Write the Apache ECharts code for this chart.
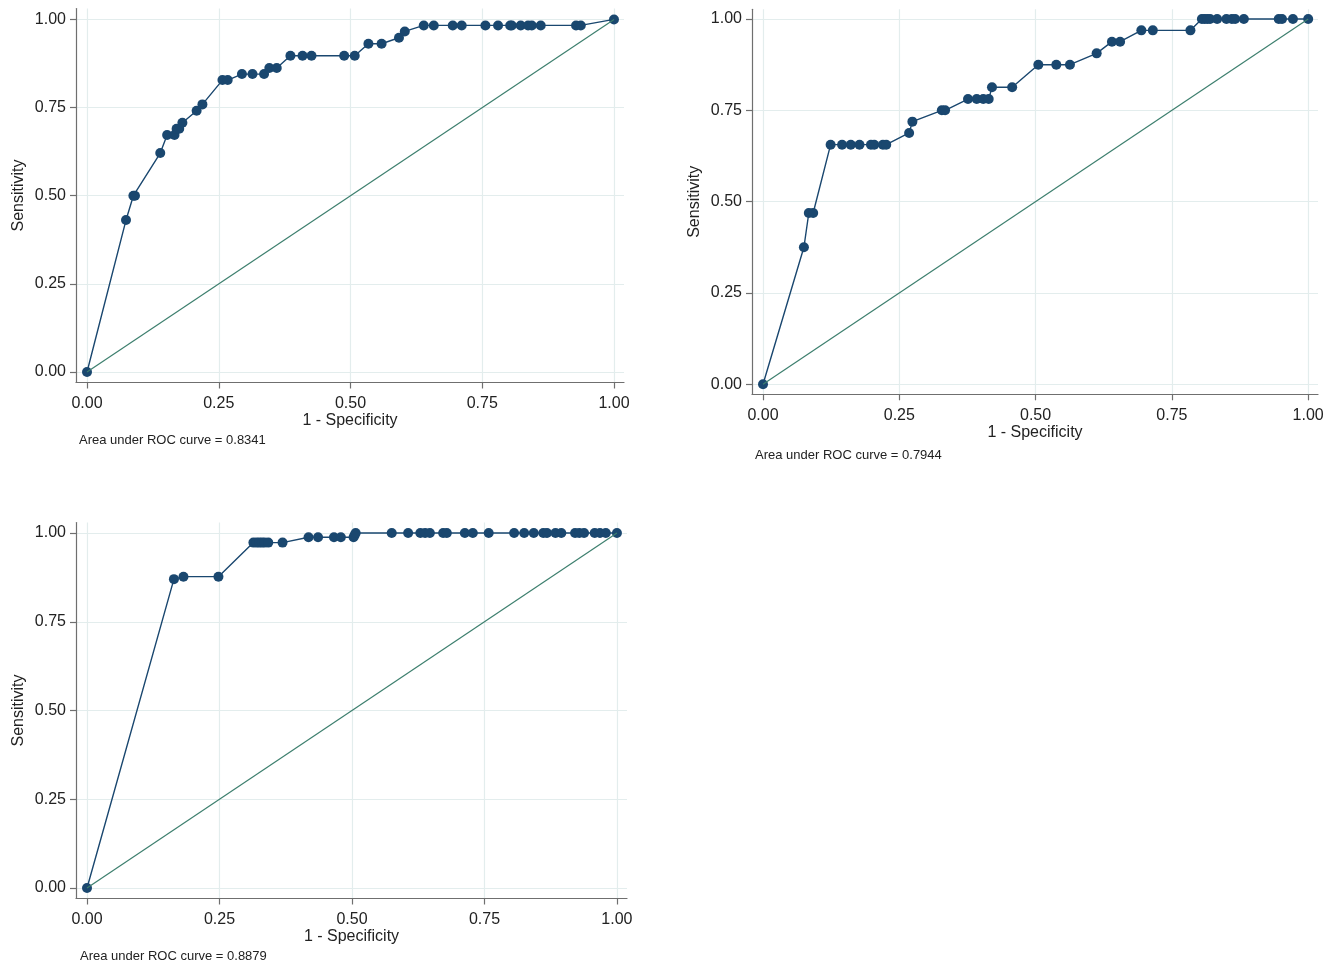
<!DOCTYPE html>
<html>
<head>
<meta charset="utf-8">
<script src="https://cdn.jsdelivr.net/npm/echarts@6/dist/echarts.min.js"></script>
<style>
html,body{margin:0;padding:0;background:#fff;}
#chart{width:1335px;height:964px;}
</style>
</head>
<body>
<div id="chart"></div>
<script>
// ---- data ----
const tickValues = [0, 0.25, 0.5, 0.75, 1];
const refX = [0, 1];
const refY = [0, 1];

const roc1X = [0, 0.074, 0.088, 0.091, 0.139, 0.152, 0.166, 0.170, 0.175, 0.181, 0.208, 0.219, 0.257, 0.267, 0.294, 0.314, 0.336, 0.346, 0.360, 0.386, 0.409, 0.426, 0.488, 0.508, 0.534, 0.559, 0.592, 0.603, 0.639, 0.658, 0.694, 0.711, 0.756, 0.780, 0.803, 0.806, 0.823, 0.837, 0.844, 0.861, 0.928, 0.937, 1];
const roc1Y = [0, 0.431, 0.500, 0.500, 0.621, 0.672, 0.672, 0.690, 0.690, 0.707, 0.741, 0.759, 0.828, 0.828, 0.845, 0.845, 0.845, 0.862, 0.862, 0.897, 0.897, 0.897, 0.897, 0.897, 0.931, 0.931, 0.948, 0.966, 0.983, 0.983, 0.983, 0.983, 0.983, 0.983, 0.983, 0.983, 0.983, 0.983, 0.983, 0.983, 0.983, 0.983, 1];

const roc2X = [0, 0.075, 0.084, 0.092, 0.124, 0.145, 0.161, 0.177, 0.198, 0.204, 0.220, 0.226, 0.268, 0.274, 0.328, 0.334, 0.376, 0.392, 0.404, 0.414, 0.420, 0.457, 0.505, 0.538, 0.563, 0.612, 0.640, 0.655, 0.694, 0.715, 0.784, 0.805, 0.810, 0.815, 0.820, 0.833, 0.850, 0.860, 0.866, 0.882, 0.946, 0.952, 0.972, 1];
const roc2Y = [0, 0.375, 0.469, 0.469, 0.656, 0.656, 0.656, 0.656, 0.656, 0.656, 0.656, 0.656, 0.688, 0.719, 0.750, 0.750, 0.781, 0.781, 0.781, 0.781, 0.813, 0.813, 0.875, 0.875, 0.875, 0.906, 0.938, 0.938, 0.969, 0.969, 0.969, 1, 1, 1, 1, 1, 1, 1, 1, 1, 1, 1, 1, 1];

const roc3X = [0, 0.164, 0.182, 0.248, 0.314, 0.320, 0.325, 0.330, 0.335, 0.342, 0.369, 0.418, 0.436, 0.466, 0.479, 0.503, 0.505, 0.507, 0.575, 0.606, 0.629, 0.638, 0.647, 0.672, 0.679, 0.713, 0.728, 0.758, 0.806, 0.825, 0.843, 0.861, 0.868, 0.884, 0.895, 0.921, 0.929, 0.938, 0.958, 0.968, 0.979, 1];
const roc3Y = [0, 0.870, 0.877, 0.877, 0.973, 0.973, 0.973, 0.973, 0.973, 0.973, 0.973, 0.988, 0.988, 0.988, 0.988, 0.988, 0.994, 1, 1, 1, 1, 1, 1, 1, 1, 1, 1, 1, 1, 1, 1, 1, 1, 1, 1, 1, 1, 1, 1, 1, 1, 1];

const aucTexts = ['Area under ROC curve = 0.8341', 'Area under ROC curve = 0.7944', 'Area under ROC curve = 0.8879'];
const xTitle = '1 - Specificity';
const yTitle = 'Sensitivity';

// ---- layout ----
const panels = [
  {x: roc1X, y: roc1Y, grid: {left: 76, top: 8.5, width: 548, height: 374}, xr: [-0.0209, 1.019], yr: [-0.0297, 1.031], note: [79, 441]},
  {x: roc2X, y: roc2Y, grid: {left: 752, top: 9.3, width: 566, height: 385}, xr: [-0.0202, 1.018], yr: [-0.0274, 1.0266], note: [755, 456]},
  {x: roc3X, y: roc3Y, grid: {left: 76, top: 522.5, width: 551, height: 376}, xr: [-0.0208, 1.019], yr: [-0.0296, 1.0296], note: [80, 957]}
];

const FONT = 'Liberation Sans, Arial, Helvetica, sans-serif';
const axisColor = '#6f6f6f';
const gridColor = '#e3eded';
const curveColor = '#1a476f';
const refColor = '#3d7f6e';

function zip(a, b) { return a.map((v, i) => [v, b[i]]); }

const grids = [], xAxes = [], yAxes = [], series = [], graphics = [];
panels.forEach((p, i) => {
  grids.push(Object.assign({containLabel: false}, p.grid));
  const common = {
    type: 'value',
    gridIndex: i,
    axisLine: {show: true, onZero: false, lineStyle: {color: axisColor, width: 1.2}},
    axisTick: {show: true, length: 6, customValues: tickValues, lineStyle: {color: axisColor, width: 1.2}},
    splitLine: {show: true, lineStyle: {color: gridColor, width: 1.2}},
    axisLabel: {customValues: tickValues, color: '#222', fontSize: 16, fontFamily: FONT,
      formatter: v => Number(v).toFixed(2)},
    nameLocation: 'middle',
    nameTextStyle: {color: '#222', fontSize: 16, fontFamily: FONT}
  };
  xAxes.push(Object.assign({}, common, {
    min: p.xr[0], max: p.xr[1], name: xTitle, nameGap: 29,
    axisLabel: Object.assign({}, common.axisLabel, {margin: 13})
  }));
  yAxes.push(Object.assign({}, common, {
    min: p.yr[0], max: p.yr[1], name: yTitle, nameGap: 49,
    axisLabel: Object.assign({}, common.axisLabel, {margin: 10})
  }));
  series.push({
    type: 'line', xAxisIndex: i, yAxisIndex: i, data: zip(p.x, p.y),
    symbol: 'circle', symbolSize: 10, showSymbol: true,
    lineStyle: {color: curveColor, width: 1.4},
    itemStyle: {color: curveColor},
    animation: false, z: 2
  });
  series.push({
    type: 'line', xAxisIndex: i, yAxisIndex: i, data: zip(refX, refY),
    symbol: 'none', lineStyle: {color: refColor, width: 1.2},
    animation: false, z: 3
  });
  graphics.push({
    type: 'text', left: p.note[0], top: p.note[1] - 7,
    style: {text: aucTexts[i], fill: '#222', font: '13px ' + FONT}
  });
});

const chart = echarts.init(document.getElementById('chart'), null, {renderer: 'canvas'});
chart.setOption({
  animation: false,
  backgroundColor: '#fff',
  grid: grids,
  xAxis: xAxes,
  yAxis: yAxes,
  series: series,
  graphic: graphics
});
</script>
</body>
</html>
